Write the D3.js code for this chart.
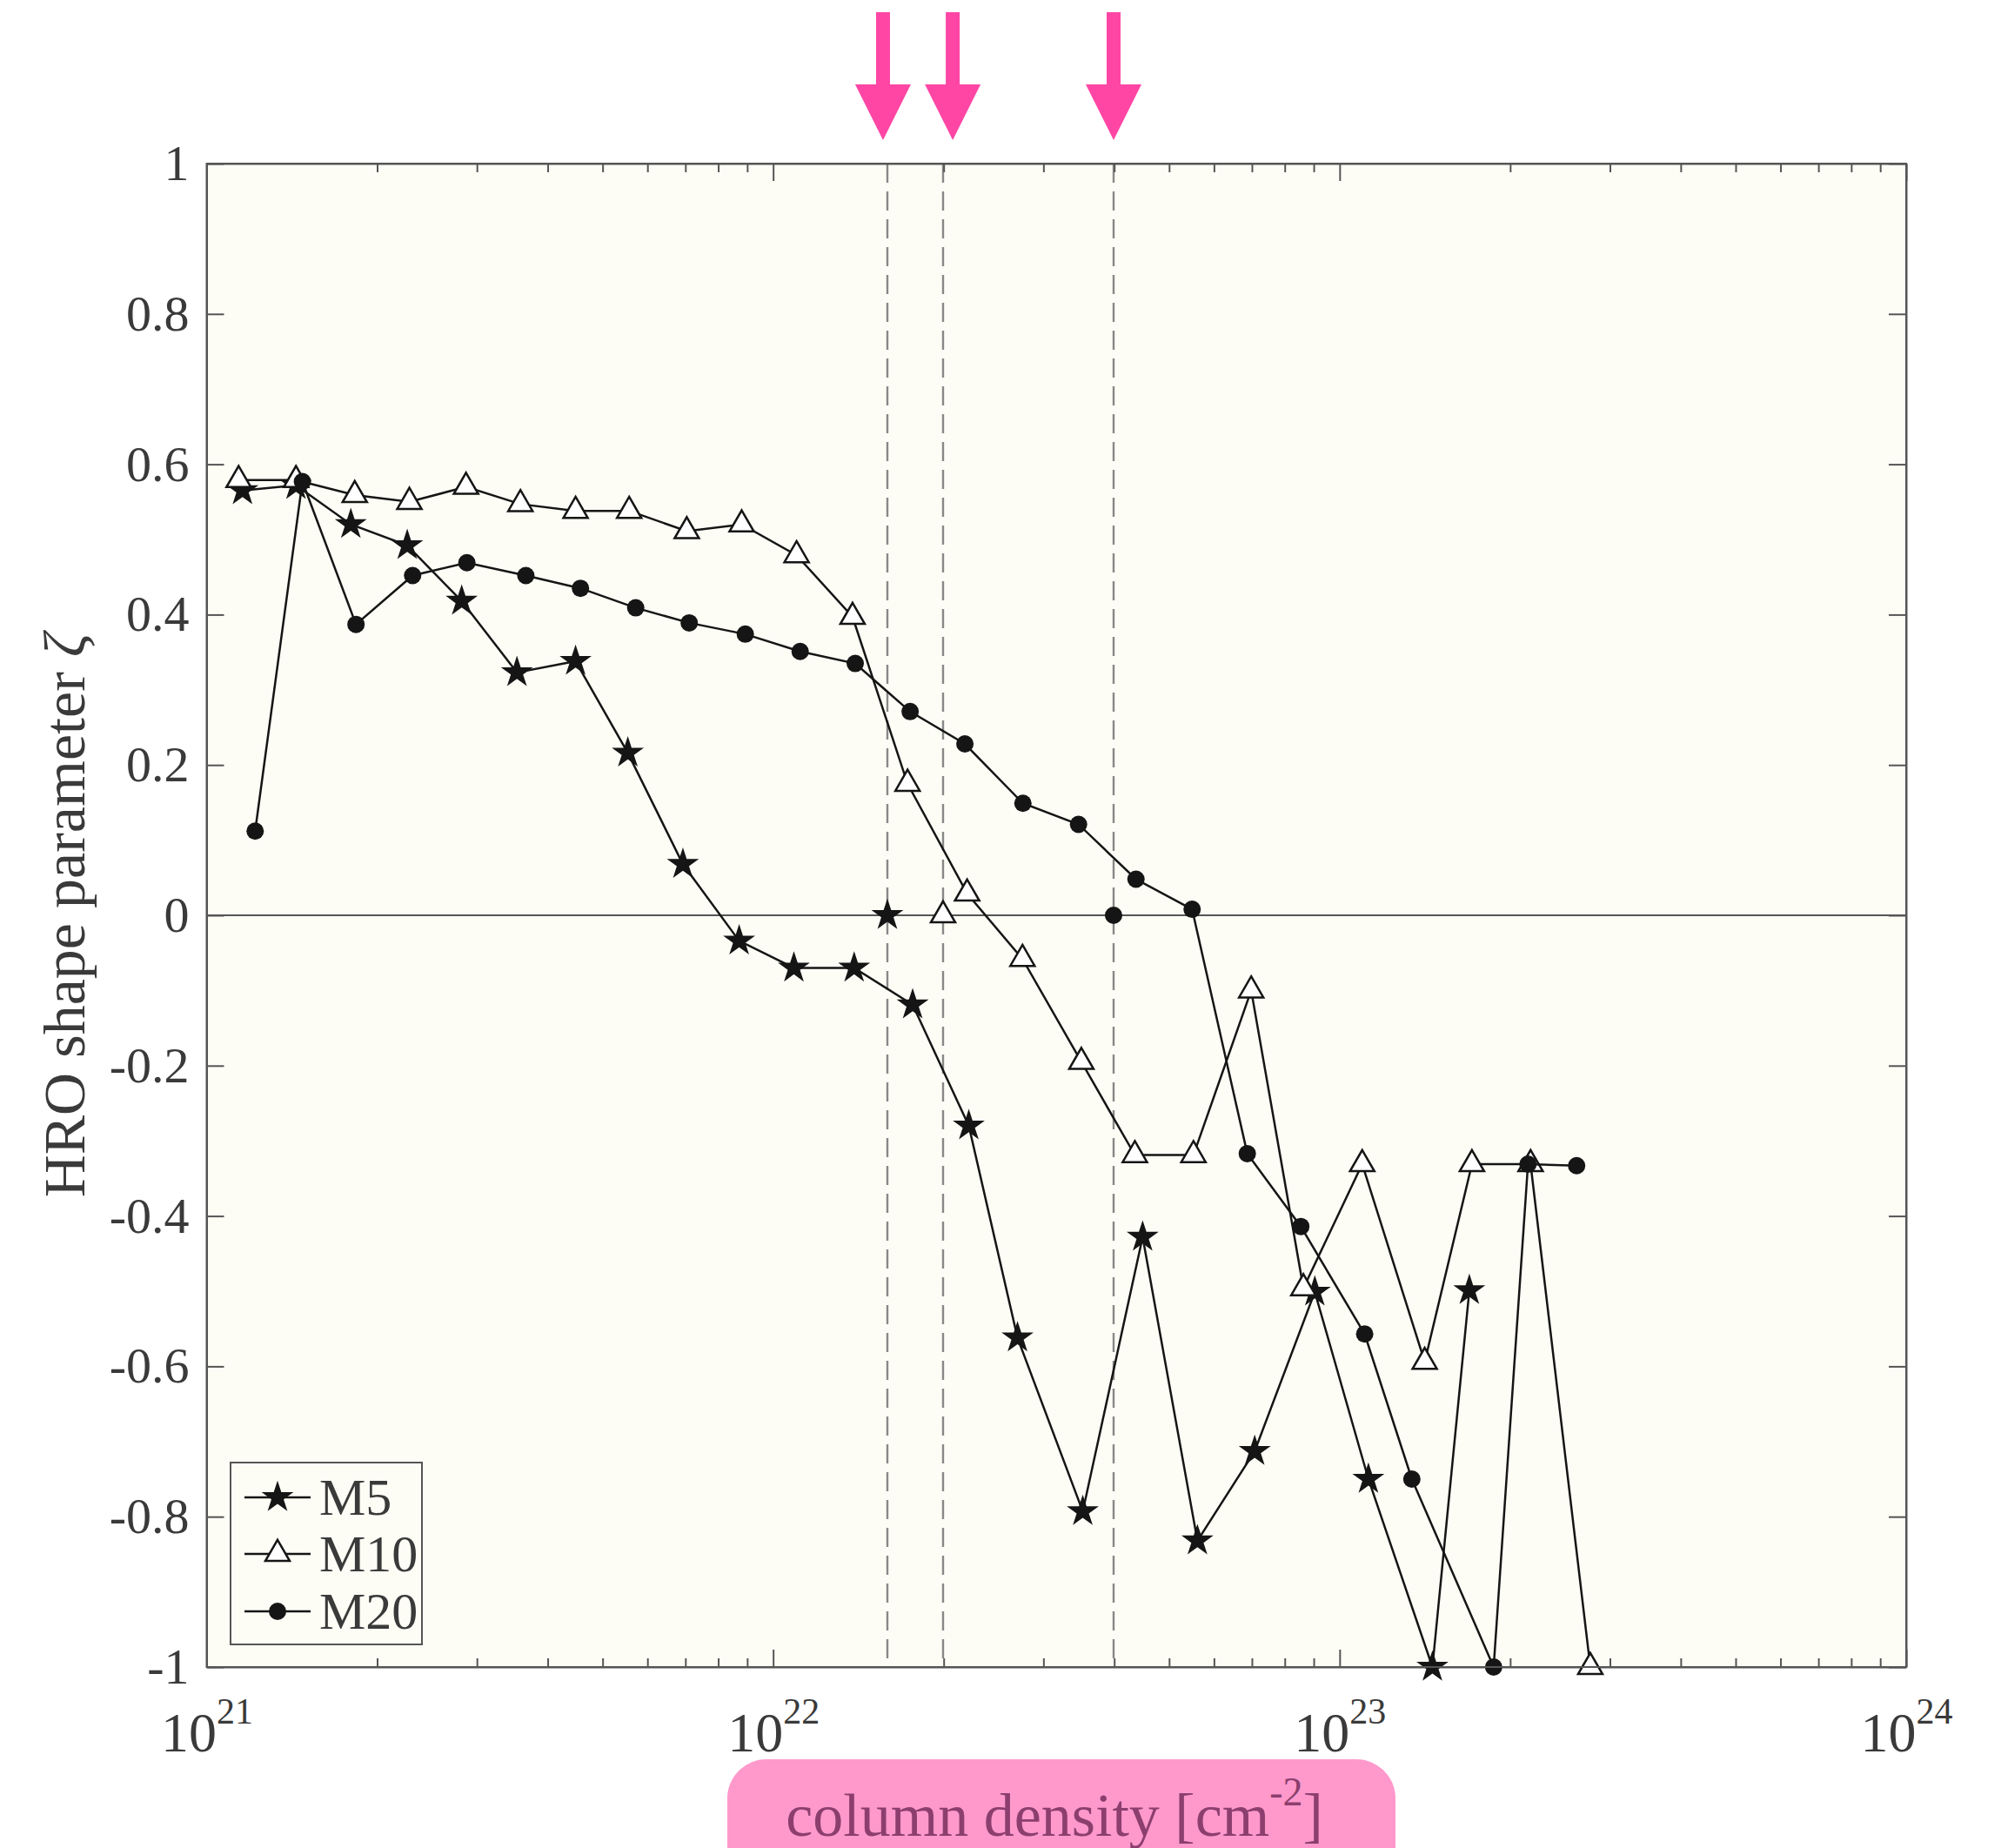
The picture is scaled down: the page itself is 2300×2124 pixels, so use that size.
<!DOCTYPE html>
<html>
<head>
<meta charset="utf-8">
<script src="https://cdn.jsdelivr.net/npm/d3@7"></script>
<style>
  body { margin: 0; background: #fff; }
  text { font-family: "Liberation Serif", "DejaVu Serif", serif; }
</style>
</head>
<body>
<svg id="chart"></svg>
<script>
// series values
const seriesNames = ["M5", "M10", "M20"]

const m5X = [1.157e21, 1.438e21, 1.797e21, 2.26e21, 2.82e21, 3.53e21, 4.48e21, 5.54e21, 6.93e21, 8.71e21,
  1.088e22, 1.39e22, 1.763e22, 2.215e22, 2.70e22, 3.52e22, 4.49e22, 5.61e22, 7.08e22, 9.04e22,
  1.124e23, 1.458e23, 1.694e23]
const m5Y = [0.565, 0.572, 0.52, 0.492, 0.418, 0.323, 0.338, 0.216, 0.068, -0.034,
  -0.07, -0.07, -0.119, -0.28, -0.562, -0.793, -0.428, -0.832, -0.713, -0.501,
  -0.75, -1.0, -0.499]

const m10X = [1.139e21, 1.438e21, 1.826e21, 2.28e21, 2.87e21, 3.58e21, 4.48e21, 5.57e21, 7.04e21, 8.8e21,
  1.1e22, 1.381e22, 1.727e22, 2.2e22, 2.755e22, 3.50e22, 4.35e22, 5.52e22, 6.98e22, 8.63e22,
  1.096e23, 1.413e23, 1.712e23, 2.173e23, 2.77e23]
const m10Y = [0.579, 0.579, 0.559, 0.55, 0.57, 0.547, 0.538, 0.538, 0.511, 0.52,
  0.479, 0.397, 0.175, 0.029, -0.058, -0.195, -0.319, -0.319, -0.1, -0.496,
  -0.331, -0.594, -0.331, -0.331, -1.0]

const m20X = [1.218e21, 1.476e21, 1.835e21, 2.31e21, 2.88e21, 3.66e21, 4.57e21, 5.72e21, 7.11e21, 8.93e21,
  1.116e22, 1.396e22, 1.745e22, 2.18e22, 2.76e22, 3.46e22, 4.37e22, 5.49e22, 6.87e22, 8.54e22,
  1.107e23, 1.341e23, 1.87e23, 2.15e23, 2.62e23]
const m20Y = [0.112, 0.577, 0.387, 0.452, 0.469, 0.452, 0.435, 0.409, 0.389, 0.374,
  0.351, 0.335, 0.271, 0.228, 0.149, 0.121, 0.048, 0.008, -0.317, -0.414,
  -0.557, -0.75, -1.0, -0.331, -0.333]

// zero crossings (dashed lines) and the pink arrows above them
const crossX = [1.591e22, 1.995e22, 3.99e22]
const arrowX = [1.563e22, 2.075e22, 3.99e22]

// ticks
const xMajor = [1e21, 1e22, 1e23, 1e24]
const xExp = ["21", "22", "23", "24"]
const xMinor = [21, 22, 23].flatMap(e => [2, 3, 4, 5, 6, 7, 8, 9].map(m => m * Math.pow(10, e)))
const yTicks = [-1, -0.8, -0.6, -0.4, -0.2, 0, 0.2, 0.4, 0.6, 0.8, 1]

const W = 2300, H = 2124
const pLeft = 237.5, pRight = 2191, pTop = 188, pBottom = 1916
const axisCol = "#555", labelCol = "#3a3a3a", lineCol = "#151515", bg = "#fdfdf6"

const svg = d3.select("#chart").attr("width", W).attr("height", H)

const x = d3.scaleLog().domain([1e21, 1e24]).range([pLeft, pRight])
const y = d3.scaleLinear().domain([-1, 1]).range([pBottom, pTop])

// plot background
svg.append("rect")
  .attr("x", pLeft).attr("y", pTop)
  .attr("width", pRight - pLeft).attr("height", pBottom - pTop)
  .attr("fill", bg)

// zero line
svg.append("line")
  .attr("x1", pLeft).attr("x2", pRight)
  .attr("y1", y(0)).attr("y2", y(0))
  .attr("stroke", axisCol).attr("stroke-width", 2)

// dashed verticals
svg.selectAll(".cross").data(crossX).enter().append("line")
  .attr("x1", d => x(d)).attr("x2", d => x(d))
  .attr("y1", y(1)).attr("y2", y(-1))
  .attr("stroke", "#888").attr("stroke-width", 2.4)
  .attr("stroke-dasharray", "22,10")

// axes: ticks inward on all four sides
function styleAxis(g) {
  g.selectAll("path, line").attr("stroke", axisCol).attr("stroke-width", 2)
  g.selectAll("text").attr("fill", labelCol)
}

const gBottom = svg.append("g").attr("transform", `translate(0,${pBottom})`)
gBottom.call(d3.axisBottom(x).tickValues(xMajor).tickSizeInner(-20).tickSizeOuter(0).tickFormat(() => ""))
gBottom.append("g").call(d3.axisBottom(x).tickValues(xMinor).tickSizeInner(-10).tickSizeOuter(0).tickFormat(() => ""))
  .select(".domain").remove()
styleAxis(gBottom)

gBottom.selectAll(".tick text").each(function (d) {
  const k = xMajor.indexOf(d)
  if (k < 0) return
  const t = d3.select(this).attr("y", 97).attr("dy", null)
    .attr("text-anchor", "middle").attr("font-size", 64).attr("fill", labelCol)
  t.append("tspan").text("10")
  t.append("tspan").attr("font-size", 42).attr("dy", -32).text(xExp[k])
})

const gTop = svg.append("g").attr("transform", `translate(0,${pTop})`)
gTop.call(d3.axisTop(x).tickValues(xMajor).tickSizeInner(-20).tickSizeOuter(0).tickFormat(() => ""))
gTop.append("g").call(d3.axisTop(x).tickValues(xMinor).tickSizeInner(-10).tickSizeOuter(0).tickFormat(() => ""))
  .select(".domain").remove()
styleAxis(gTop)

const gLeft = svg.append("g").attr("transform", `translate(${pLeft},0)`)
gLeft.call(d3.axisLeft(y).tickValues(yTicks).tickSizeInner(-20).tickSizeOuter(0).tickPadding(20)
  .tickFormat(d => String(+d.toFixed(1))))
styleAxis(gLeft)
gLeft.selectAll("text").attr("font-size", 58)
  .attr("font-family", "'Liberation Serif', serif")

const gRight = svg.append("g").attr("transform", `translate(${pRight},0)`)
gRight.call(d3.axisRight(y).tickValues(yTicks).tickSizeInner(-20).tickSizeOuter(0).tickFormat(() => ""))
styleAxis(gRight)

// series
const series = [
  {name: seriesNames[0], xs: m5X, ys: m5Y, sym: "star"},
  {name: seriesNames[1], xs: m10X, ys: m10Y, sym: "tri"},
  {name: seriesNames[2], xs: m20X, ys: m20Y, sym: "dot"}
]

const line = d3.line().x(d => x(d[0])).y(d => y(d[1]))

function drawMarker(g, sym) {
  if (sym === "star") {
    g.append("path").attr("d", d3.symbol(d3.symbolStar, 420)())
      .attr("fill", lineCol)
  } else if (sym === "tri") {
    g.append("path").attr("d", d3.symbol(d3.symbolTriangle, 340)())
      .attr("fill", "#fff").attr("stroke", lineCol).attr("stroke-width", 2.5)
  } else {
    g.append("circle").attr("r", 10).attr("fill", lineCol)
  }
}

series.forEach(s => {
  const pts = s.xs.map((v, i) => [v, s.ys[i]])
  svg.append("path").datum(pts)
    .attr("d", line)
    .attr("fill", "none").attr("stroke", lineCol).attr("stroke-width", 2.5)
  svg.selectAll(".m-" + s.name).data(pts).enter().append("g")
    .attr("transform", d => `translate(${x(d[0])},${y(d[1])})`)
    .each(function () { drawMarker(d3.select(this), s.sym) })
})

// markers where each series crosses zero
crossX.forEach((c, i) => {
  const g = svg.append("g").attr("transform", `translate(${x(c)},${y(0)})`)
  drawMarker(g, series[i].sym)
})

// box edges on top of everything
svg.append("rect")
  .attr("x", pLeft).attr("y", pTop)
  .attr("width", pRight - pLeft).attr("height", pBottom - pTop)
  .attr("fill", "none").attr("stroke", axisCol).attr("stroke-width", 2)

// legend
const leg = svg.append("g")
leg.append("rect")
  .attr("x", 265).attr("y", 1681).attr("width", 220).attr("height", 209)
  .attr("fill", bg).attr("stroke", axisCol).attr("stroke-width", 2)
const legY = [1721, 1786, 1852]
series.forEach((s, i) => {
  const g = leg.append("g").attr("transform", `translate(0,${legY[i]})`)
  g.append("line").attr("x1", 281).attr("x2", 357)
    .attr("stroke", lineCol).attr("stroke-width", 2.5)
  drawMarker(g.append("g").attr("transform", "translate(319,0)"), s.sym)
  g.append("text").attr("x", 367).attr("y", 20)
    .attr("font-size", 60).attr("fill", labelCol).text(s.name)
})

// y title
const yt = svg.append("text")
  .attr("transform", `translate(97,${(pTop + pBottom) / 2}) rotate(-90)`)
  .attr("text-anchor", "middle").attr("font-size", 68).attr("fill", labelCol)
yt.append("tspan").text("HRO shape parameter ")
yt.append("tspan").attr("font-style", "italic").text("ζ")

// x title on pink box
svg.append("rect")
  .attr("x", 836).attr("y", 2022).attr("width", 768).attr("height", 160)
  .attr("rx", 45).attr("fill", "#ff99cc")
const xt = svg.append("text")
  .attr("x", 1212).attr("y", 2110)
  .attr("text-anchor", "middle").attr("font-size", 70).attr("fill", "#8c3f6e")
xt.append("tspan").text("column density [cm")
xt.append("tspan").attr("font-size", 46).attr("dy", -35).text("-2")
xt.append("tspan").attr("dy", 35).text("]")

// pink arrows
const arrow = svg.append("g")
arrowX.forEach(a => {
  const cx = x(a)
  const p = d3.path()
  p.moveTo(cx - 8, 14); p.lineTo(cx + 8, 14); p.lineTo(cx + 8, 97)
  p.lineTo(cx + 32, 97); p.lineTo(cx, 161); p.lineTo(cx - 32, 97)
  p.lineTo(cx - 8, 97); p.closePath()
  arrow.append("path").attr("d", p.toString()).attr("fill", "#ff46a5")
})
</script>
</body>
</html>
